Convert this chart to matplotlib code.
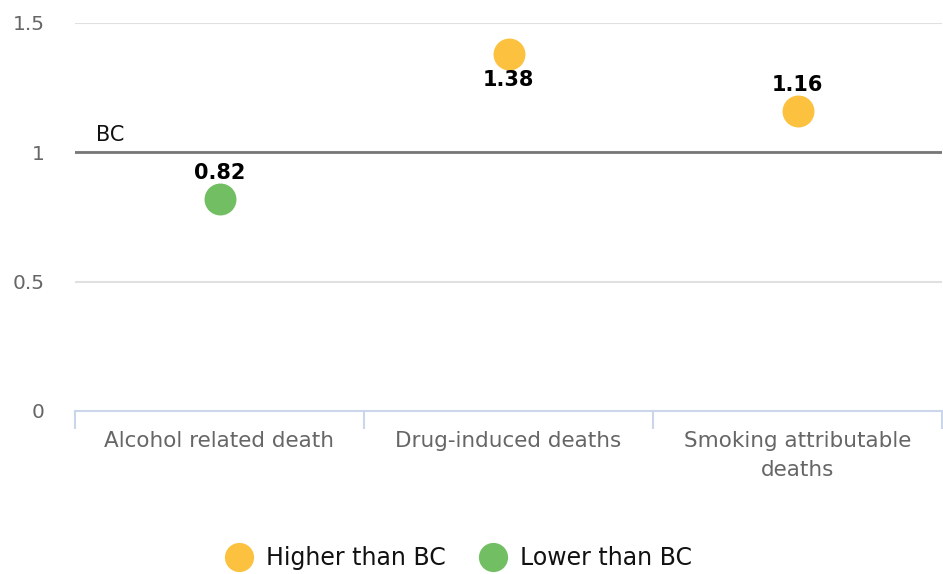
import matplotlib
matplotlib.use("Agg")
import matplotlib.pyplot as plt
from matplotlib.lines import Line2D

categories = ["Alcohol related death", "Drug-induced deaths", "Smoking attributable\ndeaths"]
values = [0.82, 1.38, 1.16]
label_pos = ["above", "below", "above"]
baseline = 1.0
yticks = [0, 0.5, 1, 1.5]
ytick_labels = ["0", "0.5", "1", "1.5"]
series_names = ["Higher than BC", "Lower than BC"]
colors = {"Higher than BC": "#FCC13E", "Lower than BC": "#71BF62"}

plt.rcParams['font.family'] = ['DejaVu Sans']

fig = plt.figure(figsize=(9.43, 5.74), dpi=100)
ax = fig.add_axes([75/943, 1-411/574, (942-75)/943, (411-23)/574])
ax.set_xlim(-0.5, 2.5)
ax.set_ylim(0, 1.5)

for y in yticks[1:]:
    ax.axhline(y, color="#e0e0e0", lw=1.5, zorder=0)
ax.axhline(baseline, color="#777777", lw=2, zorder=1)
ax.text(-0.428, baseline + 0.03, "BC", fontsize=15, color="#111111", ha="left", va="bottom")

for i, v in enumerate(values):
    name = series_names[0] if v > baseline else series_names[1]
    ax.scatter([i], [v], s=31**2 * 0.55, color=colors[name], zorder=3, linewidths=0)
    if label_pos[i] == "above":
        ax.annotate(f"{v:.2f}", (i, v), xytext=(0, 19), textcoords="offset points",
                    ha="center", va="center", fontsize=15, fontweight="semibold", color="#000000")
    else:
        ax.annotate(f"{v:.2f}", (i, v), xytext=(0, -19), textcoords="offset points",
                    ha="center", va="center", fontsize=15, fontweight="semibold", color="#000000")

for s in ["top", "right", "left"]:
    ax.spines[s].set_visible(False)
ax.spines["bottom"].set_color("#ccd6eb")
ax.spines["bottom"].set_linewidth(1.5)

ax.set_yticks(yticks)
ax.set_yticklabels(ytick_labels, fontsize=14.5, color="#666666")
ax.tick_params(axis="y", length=0, pad=22)
for lab in ax.get_yticklabels():
    lab.set_horizontalalignment("right")

ax.set_xticks([-0.5, 0.5, 1.5, 2.5])
ax.set_xticklabels([])
ax.tick_params(axis="x", length=13, width=1.5, color="#ccd6eb", direction="out")
for i, c in enumerate(categories):
    ax.text(i, -0.078, c, ha="center", va="top", fontsize=15.5, color="#666666",
            linespacing=1.55, transform=ax.transData)

handles = [Line2D([0], [0], marker="o", linestyle="", markersize=21,
                  markerfacecolor=colors[n], markeredgewidth=0) for n in series_names]
fig.legend(handles, series_names, loc="center", bbox_to_anchor=(0.481, 1-558/574),
           ncol=2, frameon=False, fontsize=17, handletextpad=0.15, columnspacing=1.0,
           labelcolor="#111111")

fig.savefig("out.png", dpi=100, facecolor="white")
